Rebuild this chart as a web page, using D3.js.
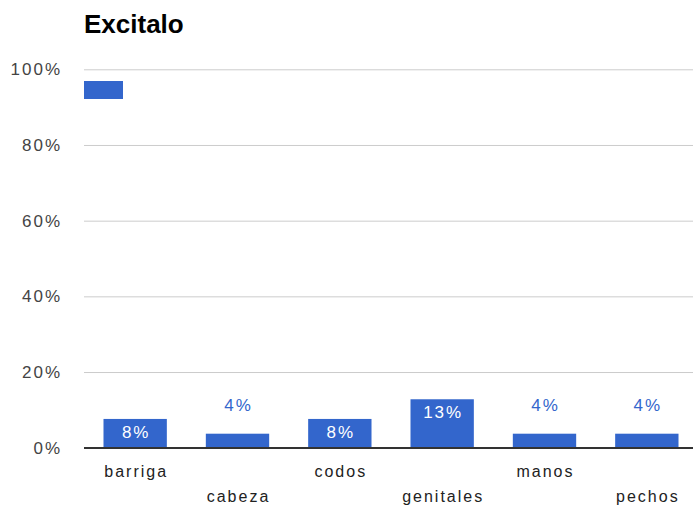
<!DOCTYPE html>
<html>
<head>
<meta charset="utf-8">
<script src="https://cdn.jsdelivr.net/npm/d3@7/dist/d3.min.js"></script>
<style>
  html, body { margin: 0; padding: 0; background: #fff; }
  svg { display: block; font-family: Arial, "Liberation Sans", sans-serif; }
</style>
</head>
<body>
<svg id="chart" width="693" height="508"></svg>
<script>
const categories = ["barriga", "cabeza", "codos", "genitales", "manos", "pechos"];
const values = [0.076, 0.037, 0.076, 0.128, 0.037, 0.037];
const yTicks = [0, 0.2, 0.4, 0.6, 0.8, 1.0];
const chartTitle = "Excitalo";

const W = 693, H = 508;
const mLeft = 84, mRight = 698, mTop = 69.3, mBottom = 447.7;
const barColor = "#3366cc";

const svg = d3.select("#chart");

const x = d3.scaleBand().domain(categories).range([mLeft, mRight])
  .paddingInner(0.381).paddingOuter(0.1905);
const y = d3.scaleLinear().domain([0, 1]).range([mBottom, mTop]);

// title
svg.append("text").attr("x", 84).attr("y", 33)
  .attr("font-size", 26).attr("font-weight", "bold").attr("fill", "#000")
  .text(chartTitle);

// gridlines
const yAxis = d3.axisLeft(y).tickValues(yTicks).tickFormat(d3.format(".0%"))
  .tickSize(0).tickPadding(22);
const gy = svg.append("g").attr("transform", `translate(${mLeft},0)`).call(yAxis);
gy.select(".domain").remove();
gy.selectAll("text").attr("font-size", 17).attr("fill", "#444")
  .attr("letter-spacing", 2).attr("font-family", "Arial, 'Liberation Sans', sans-serif");
gy.selectAll(".tick").append("line")
  .attr("x1", 0).attr("x2", W - mLeft)
  .attr("stroke", d => d === 0 ? "#333" : "#ccc")
  .attr("stroke-width", d => d === 0 ? 1.5 : 1);

// legend swatch
svg.append("rect").attr("x", 84).attr("y", 81).attr("width", 39).attr("height", 18)
  .attr("fill", barColor);

// bars
const data = categories.map((c, i) => ({ c, v: values[i] }));
svg.append("g").selectAll("rect").data(data).join("rect")
  .attr("x", d => x(d.c)).attr("width", x.bandwidth())
  .attr("y", d => y(d.v)).attr("height", d => y(0) - y(d.v))
  .attr("fill", barColor);

// zero line on top
svg.append("line").attr("x1", mLeft).attr("x2", W)
  .attr("y1", y(0)).attr("y2", y(0)).attr("stroke", "#333").attr("stroke-width", 1.5);

// data labels
const fmt = d3.format(".0%");
svg.append("g").selectAll("text").data(data).join("text")
  .attr("x", d => x(d.c) + x.bandwidth() / 2 + 1)
  .attr("y", d => (y(0) - y(d.v)) > 25 ? y(d.v) + 19 : y(d.v) - 23)
  .attr("text-anchor", "middle")
  .attr("font-size", 17).attr("letter-spacing", 2)
  .attr("fill", d => (y(0) - y(d.v)) > 25 ? "#fff" : barColor)
  .text(d => fmt(d.v));

// x labels, staggered
svg.append("g").selectAll("text").data(categories).join("text")
  .attr("x", d => x(d) + x.bandwidth() / 2 + 1)
  .attr("y", (d, i) => i % 2 === 0 ? 477 : 502)
  .attr("text-anchor", "middle")
  .attr("font-size", 16).attr("letter-spacing", 2).attr("fill", "#222")
  .text(d => d);
</script>
</body>
</html>
